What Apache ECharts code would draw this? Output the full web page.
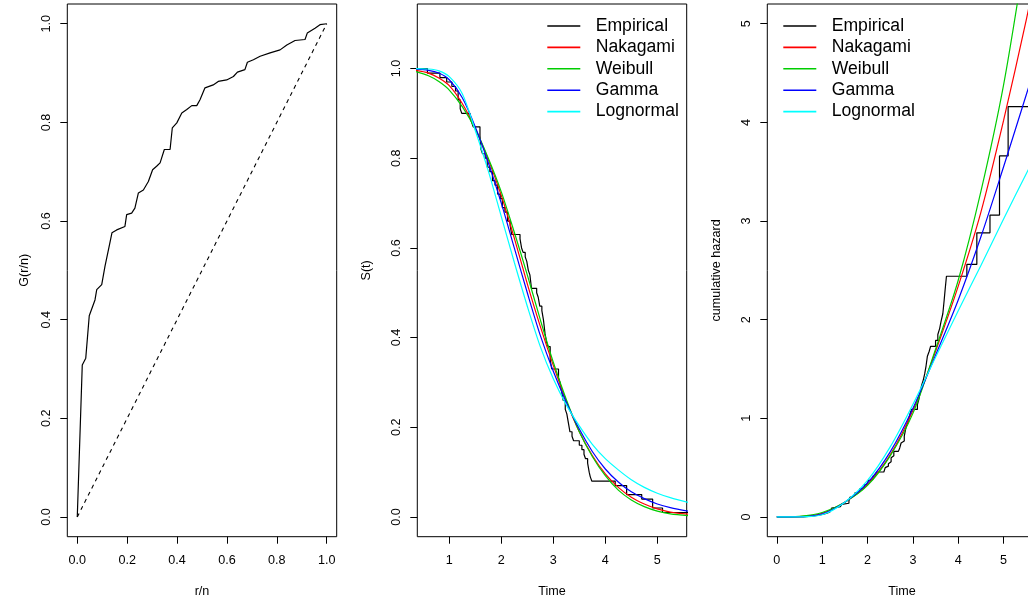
<!DOCTYPE html>
<html><head><meta charset="utf-8">
<script src="https://cdn.jsdelivr.net/npm/echarts@6/dist/echarts.min.js"></script>
<style>html,body{margin:0;padding:0;background:#fff}#c{width:1028px;height:600px}</style>
</head><body><div id="c"></div>
<script>
// ---- Panel 1: TTT plot ----
const tttX = [0,0.02,0.034,0.048,0.071,0.078,0.098,0.111,0.128,0.139,0.158,0.191,0.198,0.218,0.231,0.245,0.265,0.285,0.302,0.318,0.332,0.349,0.372,0.381,0.399,0.419,0.439,0.459,0.479,0.492,0.512,0.545,0.565,0.599,0.626,0.642,0.672,0.682,0.706,0.733,0.773,0.813,0.840,0.873,0.913,0.922,0.953,0.973,1.0];
const tttY = [0,0.308,0.322,0.408,0.44,0.461,0.471,0.508,0.549,0.576,0.582,0.589,0.613,0.616,0.626,0.657,0.663,0.680,0.704,0.711,0.718,0.745,0.745,0.789,0.799,0.819,0.826,0.834,0.834,0.846,0.870,0.876,0.883,0.886,0.893,0.902,0.907,0.922,0.927,0.934,0.941,0.947,0.957,0.966,0.968,0.981,0.991,0.998,1.0];
const diagX = [0,1];
const diagY = [0,1];

// ---- Empirical survival / cumulative hazard (shared event times) ----
const eventTimes = [0.58,0.82,0.95,1.05,1.12,1.17,1.21,1.24,1.40,1.43,1.46,1.59,1.61,1.64,1.69,1.73,1.78,1.83,1.88,1.93,1.98,2.02,2.07,2.12,2.17,2.20,2.36,2.39,2.42,2.46,2.49,2.52,2.55,2.58,2.68,2.71,2.74,2.78,2.81,2.84,2.87,2.90,2.94,2.97,3.10,3.13,3.16,3.19,3.23,3.26,3.29,3.32,3.36,3.39,3.50,3.55,3.59,3.62,3.66,3.69,3.71,3.74,4.19,4.41,4.70,4.91,5.10];
const survival = [0.99,0.98,0.97,0.96,0.95,0.93,0.91,0.90,0.89,0.88,0.87,0.85,0.82,0.81,0.80,0.78,0.77,0.75,0.74,0.72,0.71,0.69,0.68,0.66,0.65,0.63,0.62,0.60,0.59,0.58,0.57,0.55,0.54,0.51,0.50,0.49,0.47,0.46,0.44,0.41,0.39,0.38,0.35,0.33,0.31,0.30,0.28,0.26,0.24,0.23,0.21,0.19,0.18,0.17,0.16,0.15,0.14,0.13,0.12,0.10,0.09,0.08,0.07,0.05,0.04,0.02,0.01];
const cumHazard = [0.01,0.02,0.03,0.04,0.05,0.07,0.09,0.105,0.116,0.128,0.139,0.162,0.198,0.21,0.223,0.248,0.26,0.287,0.30,0.328,0.342,0.37,0.385,0.415,0.43,0.456,0.47,0.50,0.515,0.54,0.56,0.60,0.62,0.665,0.68,0.70,0.75,0.77,0.82,0.89,0.94,0.975,1.05,1.09,1.14,1.19,1.26,1.33,1.39,1.45,1.53,1.63,1.68,1.73,1.79,1.85,1.91,1.98,2.06,2.2,2.3,2.44,2.56,2.88,3.06,3.66,4.16];
const followUpEnd = 5.8;

// ---- Fitted survival curves ----
const curveT = [0.3,0.6,0.8,1.0,1.25,1.5,1.75,2.0,2.25,2.5,2.75,3.0,3.25,3.5,3.75,4.0,4.25,4.5,4.75,5.0,5.25,5.6];
const nakagamiS = [0.997,0.99,0.979,0.962,0.922,0.866,0.797,0.717,0.622,0.52,0.425,0.338,0.258,0.19,0.137,0.096,0.066,0.044,0.029,0.018,0.011,0.006];
const weibullS  = [0.995,0.984,0.971,0.952,0.915,0.865,0.80,0.725,0.635,0.54,0.44,0.345,0.262,0.19,0.135,0.092,0.06,0.038,0.023,0.013,0.007,0.003];
const gammaS    = [0.999,0.996,0.99,0.975,0.935,0.87,0.79,0.70,0.60,0.50,0.405,0.325,0.256,0.196,0.146,0.107,0.078,0.056,0.041,0.029,0.021,0.013];
const lognormS  = [1.0,0.999,0.995,0.982,0.944,0.862,0.772,0.67,0.568,0.47,0.38,0.308,0.25,0.203,0.162,0.13,0.105,0.083,0.066,0.053,0.043,0.032];

// ---- Fitted cumulative hazard curves ----
const hazT = [0,0.5,1.0,1.5,2.0,2.5,3.0,3.5,4.0,4.5,5.0,5.5,5.8];
const nakagamiH = [0,0.004,0.038,0.15,0.33,0.63,1.08,1.68,2.34,3.09,4.02,5.04,5.7];
const weibullH  = [0,0.006,0.045,0.15,0.32,0.62,1.05,1.70,2.40,3.30,4.38,5.77,6.6];
const gammaH    = [0,0.002,0.03,0.15,0.345,0.66,1.10,1.64,2.20,2.84,3.55,4.28,4.72];
const lognormH  = [0,0.001,0.022,0.15,0.37,0.71,1.14,1.62,2.09,2.55,3.02,3.48,3.75];

// ---- Tick values and labels ----
const ticksUnit = [0,0.2,0.4,0.6,0.8,1.0];
const ticksTime2 = [1,2,3,4,5];
const ticksTime3 = [0,1,2,3,4,5];
const ticksHaz = [0,1,2,3,4,5];
const legendNames = ['Empirical','Nakagami','Weibull','Gamma','Lognormal'];
const colors = {Empirical:'#000000', Nakagami:'#FF0000', Weibull:'#00CD00', Gamma:'#0000FF', Lognormal:'#00FFFF'};

const FONT = "'Liberation Sans', Arial, Helvetica, sans-serif";
const zip = (a,b) => a.map((v,i)=>[v,b[i]]);

function axis(kind, gi, min, max, ticks, name, gap, fmt){
  const isY = kind === 'y';
  return {
    type:'value', gridIndex:gi, min:min, max:max,
    name:name, nameLocation:'middle', nameGap:gap,
    nameTextStyle:{color:'#000', fontSize:12.6, fontFamily:FONT},
    axisLine:{show:false, onZero:false},
    splitLine:{show:false},
    axisTick:{show:true, inside:false, length:7, customValues:ticks, lineStyle:{color:'#000', width:1}},
    axisLabel:{show:true, customValues:ticks, formatter:fmt, rotate: isY ? 90 : 0,
      margin: isY ? 14 : 17, color:'#000', fontSize:12.6, fontFamily:FONT}
  };
}
const f1 = v => Number(v).toFixed(1);
const f0 = v => String(Math.round(v));

const lineBase = (name, xi, data, color, extra) => Object.assign({
  name:name, type:'line', xAxisIndex:xi, yAxisIndex:xi, data:data,
  showSymbol:false, symbol:'none', animation:false, silent:true, clip:true,
  itemStyle:{color:color}, lineStyle:{color:color, width:1.2}
}, extra||{});
const smoothOpt = {smooth:0.3};

const series = [
  lineBase('TTT', 0, zip(tttX, tttY), '#000'),
  lineBase('Diagonal', 0, zip(diagX, diagY), '#000', {lineStyle:{color:'#000', width:1.1, type:[4,4]}}),
  lineBase('Empirical', 1, [[0,1]].concat(zip(eventTimes, survival), [[followUpEnd, survival[survival.length-1]]]), colors.Empirical, {step:'end'}),
  lineBase('Nakagami', 1, zip(curveT, nakagamiS), colors.Nakagami, smoothOpt),
  lineBase('Weibull', 1, zip(curveT, weibullS), colors.Weibull, smoothOpt),
  lineBase('Gamma', 1, zip(curveT, gammaS), colors.Gamma, smoothOpt),
  lineBase('Lognormal', 1, zip(curveT, lognormS), colors.Lognormal, smoothOpt),
  lineBase('Empirical', 2, [[0,0]].concat(zip(eventTimes, cumHazard), [[followUpEnd, cumHazard[cumHazard.length-1]]]), colors.Empirical, {step:'end'}),
  lineBase('Nakagami', 2, zip(hazT, nakagamiH), colors.Nakagami, smoothOpt),
  lineBase('Weibull', 2, zip(hazT, weibullH), colors.Weibull, smoothOpt),
  lineBase('Gamma', 2, zip(hazT, gammaH), colors.Gamma, smoothOpt),
  lineBase('Lognormal', 2, zip(hazT, lognormH), colors.Lognormal, smoothOpt)
];

function legendAt(left){
  return {
    show:true, orient:'vertical', left:left, top:15.3, padding:0, itemGap:0,
    itemWidth:33, itemHeight:1.6, icon:'rect', selectedMode:false,
    data: legendNames.map(n => ({name:n, itemStyle:{color:colors[n]}})),
    textStyle:{color:'#000', fontSize:17.6, fontFamily:FONT, lineHeight:21.4, padding:[0,0,0,10.4]}
  };
}

const gridBase = {show:true, borderColor:'#000', borderWidth:1, backgroundColor:'transparent', top:4, height:532.7, containLabel:false, outerBoundsMode:'none'};
const option = {
  backgroundColor:'#fff',
  animation:false,
  grid:[
    Object.assign({left:67.3, width:269.4}, gridBase),
    Object.assign({left:417.3, width:269.4}, gridBase),
    Object.assign({left:767.3, width:269.4}, gridBase)
  ],
  xAxis:[
    axis('x', 0, -0.04, 1.04, ticksUnit, 'r/n', 48, f1),
    axis('x', 1, 0.385, 5.565, ticksTime2, 'Time', 48, f0),
    axis('x', 2, -0.21, 5.73, ticksTime3, 'Time', 48, f0)
  ],
  yAxis:[
    axis('y', 0, -0.04, 1.04, ticksUnit, 'G(r/n)', 36, f1),
    axis('y', 1, -0.044, 1.144, ticksUnit, 'S(t)', 44, f1),
    axis('y', 2, -0.2, 5.2, ticksHaz, 'cumulative hazard', 44, f0)
  ],
  legend:[legendAt(547.3), legendAt(783.3)],
  series:series
};
const chart = echarts.init(document.getElementById('c'), null, {renderer:'canvas'});
chart.setOption(option);
</script>
</body></html>
